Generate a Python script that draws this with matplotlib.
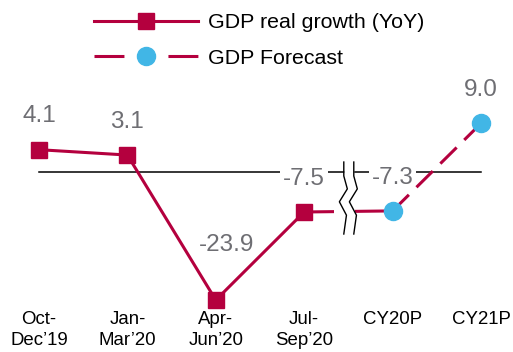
import matplotlib
matplotlib.use('Agg')
import matplotlib.pyplot as plt
from matplotlib.lines import Line2D
import numpy as np

plt.rcParams['font.family'] = ['Liberation Sans', 'DejaVu Sans']

# GDP growth, % YoY
categories = ["Oct-\nDec\u201919", "Jan-\nMar\u201920", "Apr-\nJun\u201920",
              "Jul-\nSep\u201920", "CY20P", "CY21P"]
actual = [4.1, 3.1, -23.9, -7.5]
forecast = [-7.3, 9.0]

RED = "#B4003E"
BLUE = "#41B6E6"
GREY = "#6E6E73"

x_actual = np.arange(len(actual))
x_forecast = np.arange(len(actual), len(actual) + len(forecast))

fig = plt.figure(figsize=(5.13, 3.52), dpi=100)
ax = fig.add_axes([0, 42 / 352, 1, 310 / 352])
ax.set_xlim(-0.441, 5.362)
ax.set_ylim(-25.75, 31.97)
for s in ax.spines.values():
    s.set_visible(False)
ax.set_yticks([])
ax.set_xticks(range(len(categories)))
ax.set_xticklabels(categories, fontsize=13.4, linespacing=1.25)
ax.tick_params(axis='x', length=0, pad=1)

# zero line
ax.plot([0, len(categories) - 1], [0, 0], color="black", lw=1.1, zorder=1)

# actual quarters
ax.plot(x_actual, actual, color=RED, lw=2.2, marker="s", ms=12,
        zorder=4, clip_on=False)
# join last quarter to the full-year estimate
ax.plot([x_actual[-1], x_forecast[0]], [actual[-1], forecast[0]],
        color=RED, lw=2.2, zorder=3)
# forecast
ax.plot(x_forecast, forecast, color=RED, lw=2.2, dashes=(7.5, 3.5),
        marker="o", ms=13, mfc=BLUE, mec=BLUE, zorder=4, clip_on=False)

# value labels
label_box = dict(boxstyle="square,pad=0.12", fc="white", ec="none")
offsets = [(0, 24), (0, 24), (8, 40), (0, 24), (0, 24), (0, 24)]
for xi, v, off in zip(list(x_actual) + list(x_forecast), actual + forecast, offsets):
    ax.annotate(f"{v:.1f}", (xi, v), xytext=off, textcoords="offset points",
                ha="center", va="center", fontsize=17.5, color=GREY,
                bbox=label_box, zorder=2)

# axis break between the quarters and the yearly figures
brk = (x_actual[-1] + x_forecast[0]) / 2
zz_y = np.array([1.8, -0.8, -3.2, -5.6, -8.1, -11.6])
zz_dx = np.array([0, 0, 0.04, -0.05, 0.03, 0])
left = brk - 0.052 + zz_dx
right = brk + 0.061 + zz_dx
ax.fill_betweenx(zz_y, left, right, color="white", zorder=5, lw=0)
ax.fill_between([brk - 0.16, brk + 0.08], -9.3, -5.5, color="white", zorder=5, lw=0)
ax.plot(left, zz_y, color="black", lw=1.0, zorder=6)
ax.plot(right, zz_y, color="black", lw=1.0, zorder=6)

handles = [
    Line2D([], [], color=RED, lw=2.2, marker="s", ms=12),
    Line2D([], [], color=RED, lw=2.2, dashes=(9.8, 14.4), marker="o", ms=13,
           mfc=BLUE, mec=BLUE),
]
fig.legend(handles, ["GDP real growth (YoY)", "GDP Forecast"],
           loc="center", bbox_to_anchor=(0.505, 0.885), frameon=False,
           fontsize=15.4, handlelength=4.86, handletextpad=0.45,
           labelspacing=0.78, borderpad=0, borderaxespad=0)

fig.savefig("out.png", dpi=100)
